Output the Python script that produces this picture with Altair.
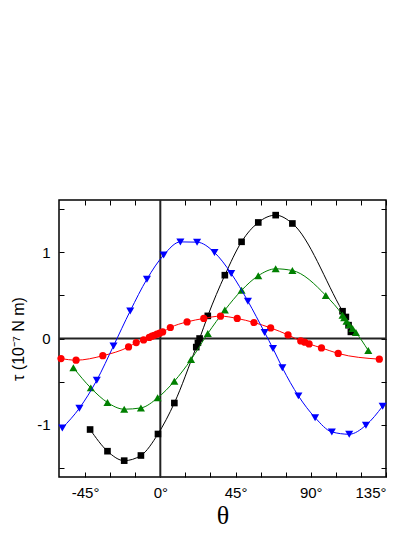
import altair as alt
import pandas as pd

# ---- data ----
black_theta = [-42, -31.6, -21.6, -11.6, -1.4, 8.4, 21.5, 22.5, 23.5, 28.4, 38.6, 48.6, 58.6, 69, 79, 109, 111, 112.6, 114]
black_tau = [-1.058, -1.31, -1.42, -1.36, -1.11, -0.75, -0.10, -0.05, 0.0, 0.263, 0.736, 1.124, 1.349, 1.434, 1.337, 0.317, 0.25, 0.155, 0.077]

green_theta = [-52, -41.6, -31.6, -21.6, -11.6, -1.6, 8.4, 18.4, 28.4, 38.6, 48.6, 58.6, 69, 79, 99, 109, 110, 111.4, 113, 115, 117, 124.4]
green_tau = [-0.34, -0.574, -0.744, -0.822, -0.807, -0.69, -0.497, -0.244, 0.058, 0.33, 0.56, 0.73, 0.81, 0.79, 0.50, 0.27, 0.24, 0.20, 0.16, 0.116, 0.07, -0.14]

red_theta = [-59.4, -50.4, -34.4, -19, -14.4, -10, -6.6, -5, -3.6, -2, -0.4, 1.4, 6, 16, 26, 36, 46, 56, 66, 76.4, 84, 86.4, 89, 96.4, 106.4, 131]
red_tau = [-0.233, -0.252, -0.2, -0.098, -0.047, -0.016, 0.012, 0.027, 0.038, 0.05, 0.062, 0.077, 0.128, 0.193, 0.233, 0.26, 0.233, 0.186, 0.123, 0.042, -0.028, -0.043, -0.063, -0.109, -0.174, -0.24]

blue_theta = [-58.6, -48.4, -38, -28, -18, -8, 2, 12, 22, 32.4, 42.4, 52.4, 62.4, 67.4, 73, 82.6, 92.6, 102.6, 113, 123, 133]
blue_tau = [-1.04, -0.81, -0.485, -0.086, 0.32, 0.69, 0.97, 1.123, 1.12, 1.0, 0.756, 0.434, 0.07, -0.116, -0.34, -0.667, -0.92, -1.086, -1.113, -1.008, -0.787]

x_major = [-45, 0, 45, 90, 135]
x_minor = [-45, -30, -15, 0, 15, 30, 45, 60, 75, 90, 105, 120, 135]
y_major = [-1, 0, 1]
y_minor = [-1.5, -1, -0.5, 0, 0.5, 1, 1.5]
zero_lines = [0]

W, H = 327, 277

x_scale = alt.Scale(domain=[-60.6, 135], nice=False, zero=False)
y_scale = alt.Scale(domain=[-1.61, 1.61], nice=False, zero=False)

tick_axis_common = dict(labels=False, domain=False, grid=False, tickSize=5,
                        tickColor="black", tickWidth=1, title=None)

x_label_axis = alt.Axis(values=x_major, labelExpr="datum.value + '°'", ticks=False, domain=False,
                        grid=False, labelFont="Liberation Sans", labelFontSize=15, labelColor="black",
                        labelPadding=8, title="θ", titleFont="Liberation Serif", titleFontSize=26,
                        titleFontWeight="normal", titleColor="black", titlePadding=2)
y_label_axis = alt.Axis(values=y_major, labelExpr="datum.value", ticks=False, domain=False,
                        grid=False, labelFont="Liberation Sans", labelFontSize=15, labelColor="black",
                        labelPadding=9, title="τ (10⁻⁷ N m)", titleFont="Liberation Sans",
                        titleFontSize=16, titleFontWeight="normal", titleColor="black", titlePadding=10)

x_ticks_bottom = alt.Axis(values=x_minor, orient="top", offset=-H, **tick_axis_common)
x_ticks_top = alt.Axis(values=x_minor, orient="bottom", offset=-H, **tick_axis_common)
y_ticks_left = alt.Axis(values=y_minor, orient="right", offset=-W, **tick_axis_common)
y_ticks_right = alt.Axis(values=y_minor, orient="left", offset=-W, **tick_axis_common)


def df(t, v):
    return pd.DataFrame({"theta": t, "tau": v})


zdf = pd.DataFrame({"z": zero_lines})
hrule = alt.Chart(zdf).mark_rule(color="#222", strokeWidth=2).encode(
    y=alt.Y("z:Q", scale=y_scale, axis=None))
vrule = alt.Chart(zdf).mark_rule(color="#222", strokeWidth=2).encode(
    x=alt.X("z:Q", scale=x_scale, axis=None))


def series(t, v, color, shape, size, xaxis=None, yaxis=None):
    d = df(t, v)
    line = alt.Chart(d).mark_line(color=color, strokeWidth=1, interpolate="monotone").encode(
        x=alt.X("theta:Q", scale=x_scale, axis=xaxis),
        y=alt.Y("tau:Q", scale=y_scale, axis=yaxis))
    pts = alt.Chart(d).mark_point(color=color, fill=color, filled=True, opacity=1,
                                  shape=shape, size=size).encode(
        x=alt.X("theta:Q", scale=x_scale, axis=None),
        y=alt.Y("tau:Q", scale=y_scale, axis=None))
    return line, pts


bl, bp = series(black_theta, black_tau, "black", "square", 44, x_label_axis, y_label_axis)
gl, gp = series(green_theta, green_tau, "#008000", "triangle-up", 65, x_ticks_bottom, y_ticks_left)
rl, rp = series(red_theta, red_tau, "#ff0000", "circle", 52)
ul, up = series(blue_theta, blue_tau, "#0000ff", "triangle-down", 65, x_ticks_top, y_ticks_right)

chart = alt.layer(hrule, vrule, bl, bp, gl, gp, rl, rp, ul, up).resolve_axis(
    x="independent", y="independent"
).properties(
    width=W, height=H,
    autosize=alt.AutoSizeParams(type="none"),
    padding={"left": 51, "top": 192, "right": 21, "bottom": 52},
    background="white",
).configure_view(stroke="black", strokeWidth=1.5)

chart.save("out.html", embed_options={"renderer": "svg", "actions": False})
